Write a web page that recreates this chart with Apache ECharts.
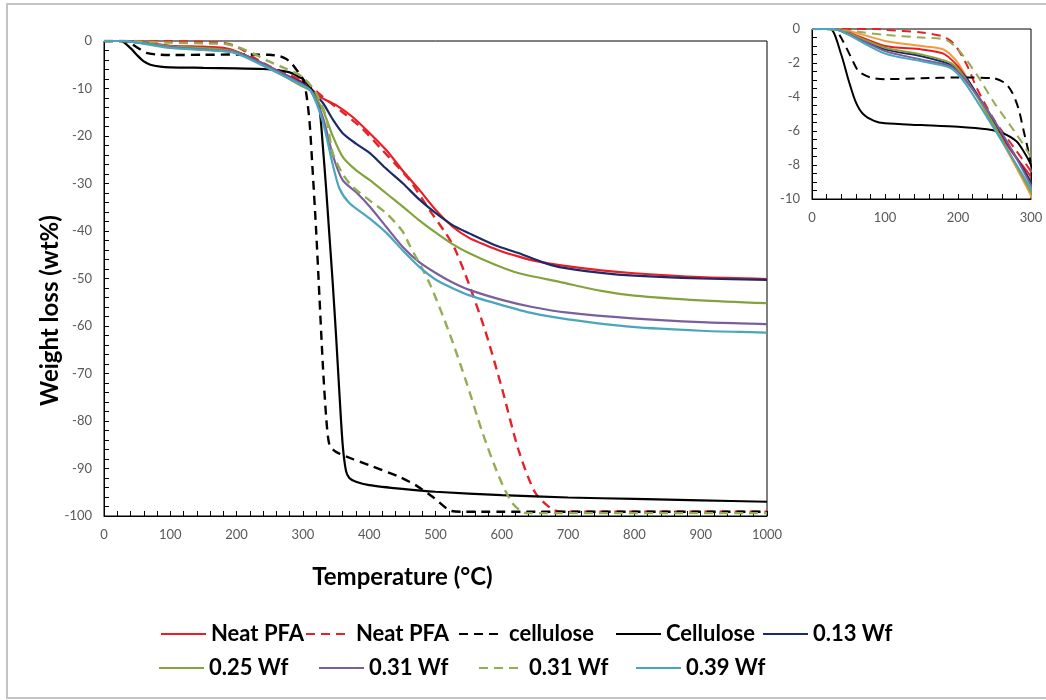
<!DOCTYPE html>
<html>
<head>
<meta charset="utf-8">
<script src="https://cdn.jsdelivr.net/npm/echarts@6/dist/echarts.min.js"></script>
<style>
html,body{margin:0;padding:0;background:#fff;}
#chart{width:1046px;height:700px;}
</style>
</head>
<body>
<div id="chart"></div>
<script>
// Data: [temperature °C, weight loss wt%]
const neatPfa = [[0,0],[30,0],[50,-0.2],[100,-1.0],[150,-1.2],[180,-1.45],[200,-2.2],[225,-3.8],[250,-5.7],[275,-7.3],[300,-8.7],[312,-10],[325,-11.7],[350,-13.5],[375,-16],[400,-19.3],[426,-23],[450,-27.2],[476,-31.4],[500,-35.5],[526,-39.1],[550,-41.4],[576,-43],[600,-44.3],[626,-45.4],[650,-46.3],[687,-47.2],[750,-48.3],[800,-48.9],[900,-49.7],[1000,-50.1]];
const neatPfaDashed = [[0,0],[90,0],[100,-0.05],[150,-0.2],[180,-0.45],[195,-0.9],[212,-2.1],[226,-3.5],[249,-5.3],[277,-7],[300,-8.4],[315,-10],[330,-11.8],[360,-15],[390,-18.5],[420,-23],[440,-26],[461,-29.3],[491,-35.6],[516,-40.6],[530,-44],[550,-51],[575,-61],[600,-73],[625,-86],[650,-95],[675,-98.5],[690,-99.1],[1000,-99.1]];
const celluloseDashed = [[0,0],[30,0],[41,-0.6],[55,-1.8],[64,-2.5],[80,-2.85],[100,-2.95],[150,-2.9],[200,-2.85],[249,-2.9],[265,-3.2],[275,-3.8],[283,-4.7],[290,-6],[297,-7.3],[300,-8],[305,-11],[310,-17],[315,-28],[320,-40],[325,-54],[330,-68],[335,-79],[340,-85],[350,-86.5],[375,-88],[400,-89.3],[446,-91.8],[470,-93.5],[496,-96],[521,-98.8],[540,-99.1],[1000,-99.1]];
const celluloseSolid = [[0,0],[25,0],[40,-1.5],[50,-3],[60,-4.3],[70,-5],[85,-5.4],[100,-5.55],[150,-5.65],[200,-5.75],[240,-5.9],[260,-6.1],[280,-6.6],[290,-7.2],[300,-8],[310,-9.5],[320,-12],[325,-14],[330,-22],[335,-31],[340,-41],[345,-51],[350,-62],[355,-74],[360,-85],[365,-90.5],[370,-92],[380,-92.8],[400,-93.5],[450,-94.3],[500,-94.9],[600,-95.6],[700,-96.1],[800,-96.4],[900,-96.7],[1000,-97]];
const wf013 = [[0,0],[30,0],[50,-0.3],[100,-1.2],[150,-1.6],[190,-2.1],[210,-2.8],[250,-5.5],[300,-9],[312,-10.3],[330,-13],[345,-16.5],[360,-19.4],[380,-21.6],[401,-23.6],[425,-26.8],[451,-30],[475,-33.3],[501,-36.3],[525,-38.7],[551,-40.5],[590,-43],[626,-44.7],[660,-46.5],[687,-47.6],[750,-48.8],[800,-49.4],[900,-50],[1000,-50.3]];
const wf025 = [[0,0],[30,0],[50,-0.25],[100,-1.1],[150,-1.5],[190,-2.0],[210,-2.9],[250,-5.7],[300,-9.6],[312,-10.5],[330,-14.5],[345,-20],[360,-24.4],[380,-27.2],[401,-29.3],[425,-32],[451,-34.9],[475,-37.7],[501,-40.4],[525,-42.7],[551,-44.7],[590,-47.1],[626,-48.9],[687,-50.7],[750,-52.6],[800,-53.6],[900,-54.6],[1000,-55.2]];
const wf031 = [[0,0],[30,0],[50,-0.3],[100,-1.3],[150,-1.8],[190,-2.2],[210,-3.0],[250,-5.4],[300,-9.2],[312,-10.5],[330,-16],[345,-24],[360,-29.3],[380,-31.8],[401,-34.9],[425,-39],[451,-43.4],[475,-46.5],[501,-48.9],[525,-50.8],[551,-52.4],[600,-54.5],[646,-56],[700,-57.2],[797,-58.4],[900,-59.2],[1000,-59.6]];
const wf031Dashed = [[0,0],[50,-0.1],[100,-0.35],[150,-0.5],[184,-0.65],[203,-1.35],[226,-2.7],[249,-4.3],[277,-6],[300,-7.6],[320,-11],[335,-16],[345,-23.6],[360,-28],[375,-30.7],[400,-33.5],[426,-36.3],[450,-40],[461,-43],[491,-51],[521,-61.5],[547,-72],[571,-82.5],[596,-91.8],[616,-97.3],[637,-99.4],[1000,-99.4]];
const wf039 = [[0,0],[30,0],[50,-0.35],[100,-1.45],[150,-1.9],[190,-2.3],[210,-3.2],[250,-5.9],[300,-9.4],[312,-10.5],[330,-17],[345,-26],[355,-31],[370,-34.1],[400,-37.3],[426,-40.4],[450,-44],[476,-47.6],[500,-50.2],[525,-52],[550,-53.5],[600,-55.6],[646,-57.3],[700,-58.6],[797,-60.2],[900,-61],[1000,-61.4]];
const insetOrange = [[0,0],[30,0],[50,-0.1],[100,-0.7],[150,-1.0],[180,-1.2],[200,-2.0],[250,-5.8],[300,-9.8],[310,-11]];

const mainXTicks = {min:0, max:1000, interval:100};
const mainYTicks = {min:-100, max:0, interval:10};
const insetXTicks = {min:0, max:300, interval:100};
const insetYTicks = {min:-10, max:0, interval:2};

const seriesDefs = [
  {name:'Neat PFA', data:neatPfa, color:'#ec1c24', dashed:false},
  {name:'Neat PFA (dashed)', data:neatPfaDashed, color:'#e5222a', dashed:true},
  {name:'cellulose', data:celluloseDashed, color:'#000000', dashed:true},
  {name:'Cellulose', data:celluloseSolid, color:'#000000', dashed:false},
  {name:'0.13 Wf', data:wf013, color:'#1c2b68', dashed:false},
  {name:'0.25 Wf', data:wf025, color:'#84a33d', dashed:false},
  {name:'0.31 Wf', data:wf031, color:'#7a5f9b', dashed:false},
  {name:'0.31 Wf (dashed)', data:wf031Dashed, color:'#93ad55', dashed:true},
  {name:'0.39 Wf', data:wf039, color:'#4aa5bd', dashed:false}
];

const legendRows = [
  {names:['Neat PFA','Neat PFA (dashed)','cellulose','Cellulose','0.13 Wf'], lefts:[160,305,458,615,762], top:622},
  {names:['0.25 Wf','0.31 Wf','0.31 Wf (dashed)','0.39 Wf'], lefts:[158,318,478,635], top:656}
];

const FONT = 'Lato, "Open Sans", sans-serif';
const SMOOTH = 0.25;
const series = [];
seriesDefs.forEach(d => {
  const ls = {color:d.color, width:d.dashed ? 2.4 : 2.2, type:d.dashed ? [9,6] : 'solid'};
  series.push({name:d.name, type:'line', data:d.data, xAxisIndex:0, yAxisIndex:0, showSymbol:false, symbol:'none',
    smooth:SMOOTH, lineStyle:ls, itemStyle:{color:d.color}, silent:true, animation:false, z:3});
  series.push({name:d.name, type:'line', data:d.data, xAxisIndex:1, yAxisIndex:1, showSymbol:false, symbol:'none',
    smooth:SMOOTH, lineStyle:Object.assign({}, ls, {width:2}), itemStyle:{color:d.color}, silent:true, animation:false, z:3});
});
series.push({name:'inset orange', type:'line', data:insetOrange, xAxisIndex:1, yAxisIndex:1, showSymbol:false, symbol:'none',
  smooth:SMOOTH, lineStyle:{color:'#f59a3c', width:2}, silent:true, animation:false, z:2});

const legends = [];
legendRows.forEach(row => {
  row.names.forEach((n, i) => {
    legends.push({data:[n], left:row.lefts[i], top:row.top, padding:0, itemWidth:45, itemHeight:14, itemGap:0,
      selectedMode:false, formatter:nm => nm.replace(' (dashed)',''),
      itemStyle:{opacity:0, borderWidth:0},
      textStyle:{fontFamily:FONT, fontWeight:'bold', fontSize:22, color:'#000', lineHeight:24}});
  });
});

function axisCommon(extra){
  return Object.assign({
    type:'value',
    nameMoveOverlap:false,
    axisLine:{show:true, onZero:false, lineStyle:{color:'#000', width:1}},
    axisTick:{show:true, inside:true, length:5, lineStyle:{color:'#000'}},
    splitLine:{show:false},
    axisLabel:{color:'#595959', fontFamily:FONT, fontSize:13, margin:12, formatter:v => String(v)}
  }, extra);
}

const option = {
  animation:false,
  backgroundColor:'#ffffff',
  grid:[
    {left:104, top:41, width:663, height:475, show:true, borderColor:'#000', borderWidth:1, backgroundColor:'transparent'},
    {left:812, top:29, width:219, height:170, show:true, borderColor:'#000', borderWidth:1, backgroundColor:'transparent'}
  ],
  xAxis:[
    axisCommon(Object.assign({gridIndex:0, name:'Temperature (°C)', nameLocation:'middle', nameGap:49,
      nameTextStyle:{fontFamily:FONT, fontWeight:'bold', fontSize:24, color:'#000', padding:[0,66,0,0]},
      minorTick:{show:true, splitNumber:5, length:5, lineStyle:{color:'#000'}}}, mainXTicks)),
    axisCommon(Object.assign({gridIndex:1, minorTick:{show:true, splitNumber:5, length:5, lineStyle:{color:'#000'}}}, insetXTicks))
  ],
  yAxis:[
    axisCommon(Object.assign({gridIndex:0, name:'Weight loss (wt%)', nameLocation:'middle', nameGap:42,
      nameTextStyle:{fontFamily:FONT, fontWeight:'bold', fontSize:24, color:'#000', padding:[0,64,0,0]},
      minorTick:{show:true, splitNumber:5, length:5, lineStyle:{color:'#000'}}}, mainYTicks)),
    axisCommon(Object.assign({gridIndex:1, minorTick:{show:true, splitNumber:4, length:5, lineStyle:{color:'#000'}}}, insetYTicks))
  ],
  legend:legends,
  graphic:[{type:'rect', silent:true, z:-10, shape:{x:7, y:4, width:1060, height:694},
    style:{fill:'none', stroke:'#c4c4c4', lineWidth:2}}],
  series:series
};

const chart = echarts.init(document.getElementById('chart'), null, {renderer:'canvas'});
chart.setOption(option);
</script>
</body>
</html>
